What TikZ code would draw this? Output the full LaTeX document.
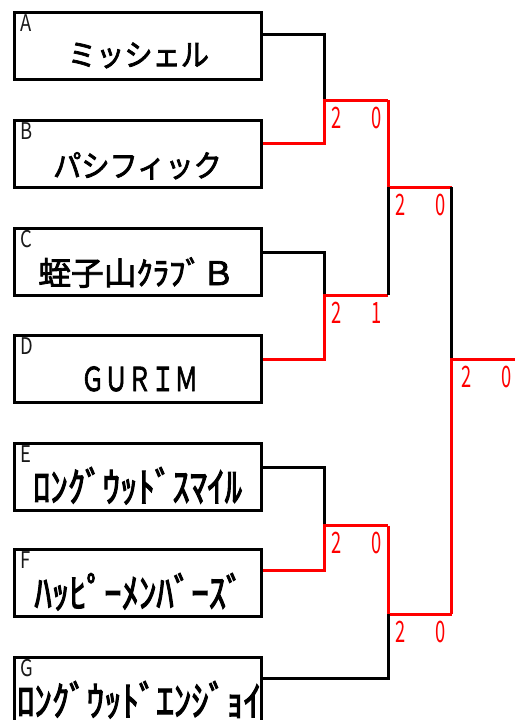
\documentclass[tikz,border=0pt]{standalone}
\usepackage{fontspec}
\setmainfont{Noto Sans CJK JP}
\newfontfamily\namefont[FakeBold=2.5]{Noto Sans CJK JP}
\newfontfamily\hwfont[FakeStretch=0.85, FakeBold=2.5]{Noto Sans CJK JP}
\newfontfamily\digitfont[FakeStretch=0.62]{Noto Sans CJK JP}
\newfontfamily\labelfont[FakeStretch=0.8]{Noto Sans CJK JP}
\usetikzlibrary{calc}
\definecolor{winred}{RGB}{255,0,0}
\tikzset{
  team/.style={draw=black, line width=3pt, rectangle, minimum width=247pt, minimum height=67pt, inner sep=0pt, anchor=north west},
  tag/.style={inner sep=0pt, anchor=base west, font=\labelfont\fontsize{23}{23}\selectfont, text=black!90},
  fullname/.style={inner sep=0pt, anchor=base, font=\namefont\fontsize{30}{30}\selectfont},
  halfname/.style={inner sep=0pt, anchor=base, font=\hwfont\fontsize{41}{41}\selectfont},
  lose/.style={draw=black, line width=3pt},
  win/.style={draw=winred, line width=3pt},
  score/.style={inner sep=0pt, anchor=base, text=winred, font=\digitfont\fontsize{29.5}{29.5}\selectfont},
}
\begin{document}
\begin{tikzpicture}[x=1pt, y=-1pt]
\useasboundingbox (0,0) rectangle (515,720);

% team boxes
\node[team] (A) at (12.5,11) {};
\node[team] (B) at (12.5,119) {};
\node[team] (C) at (12.5,227) {};
\node[team] (D) at (12.5,334) {};
\node[team] (E) at (12.5,442) {};
\node[team] (F) at (12.5,548) {};
\node[team] (G) at (12.5,656) {};

% letters
\node[tag] (tA) at ($(A.north west)+(8,20)$) {A};
\node[tag] (tB) at ($(B.north west)+(8,20)$) {B};
\node[tag] (tC) at ($(C.north west)+(8,20)$) {C};
\node[tag] (tD) at ($(D.north west)+(8,20)$) {D};
\node[tag] (tE) at ($(E.north west)+(8,20)$) {E};
\node[tag] (tF) at ($(F.north west)+(8,20)$) {F};
\node[tag] (tG) at ($(G.north west)+(8,20)$) {G};

% names
\node[fullname] (nA) at ($(A.north)+(1,55)$) {\scalebox{0.94}[1.02]{ミッシェル}};
\node[fullname] (nB) at ($(B.north)+(0,58)$) {\scalebox{0.94}[1.02]{パシフィック}};
\node[fullname] (nC) at ($(C.north)+(-1,58)$) {\scalebox{1.09}[1.08]{蛭子山ｸﾗﾌﾞＢ}};
\node[fullname] (nD) at ($(D.north)+(2,57)$) {\scalebox{0.78}[1.1]{ＧＵＲＩＭ}};
\node[halfname] (nE) at ($(E.north)+(0,60)$) {ﾛﾝｸﾞｳｯﾄﾞｽﾏｲﾙ};
\node[halfname] (nF) at ($(F.north)+(1.5,60)$) {ﾊｯﾋﾟｰﾒﾝﾊﾞｰｽﾞ};
\node[halfname] (nG) at ($(G.north)+(1.5,60)$) {ﾛﾝｸﾞｳｯﾄﾞｴﾝｼﾞｮｲ};

% exits
\coordinate (xA) at (A.north east |- 0,34);
\coordinate (xB) at (B.north east |- 0,143);
\coordinate (xC) at (C.north east |- 0,252);
\coordinate (xD) at (D.north east |- 0,359);
\coordinate (xE) at (E.north east |- 0,467);
\coordinate (xF) at (F.north east |- 0,570);
\coordinate (xG) at (G.north east |- 0,678);

% junctions
\coordinate (m1) at (324,100);
\coordinate (m2) at (324,295);
\coordinate (m3) at (324,525.7);
\coordinate (s1) at (388,187);
\coordinate (s2) at (388,614);
\coordinate (f1) at (451.5,359);
\coordinate (out) at (515,359);

% round 1
\draw[lose] (xA) -| (m1);
\draw[win] (xB) -| (m1) -- (m1 -| s1);
\draw[lose] (xC) -| (m2);
\draw[win] (xD) -| (m2) -- (m2 -| s1);
\draw[lose] (xE) -| (m3);
\draw[win] (xF) -| (m3) -- (m3 -| s2);
% round 2
\draw[win] (m1 -| s1) -- (s1) -- (s1 -| f1);
\draw[lose] (m2 -| s1) -- (s1);
\draw[win] (m3 -| s2) -- (s2) -- (s2 -| f1);
\draw[lose] (xG) -| (s2);
% final
\draw[lose] (s1 -| f1) -- (f1);
\draw[win] (s2 -| f1) -- (f1) -- (out);

% scores
\node[score] (a1) at ($(m1)+(12.7,28)$) {2};
\node[score] (a2) at ($(m1)+(52.7,28)$) {0};
\node[score] (b1) at ($(m2)+(12.7,28)$) {2};
\node[score] (b2) at ($(m2)+(52.7,28)$) {1};
\node[score] (c1) at ($(m3)+(12.7,28)$) {2};
\node[score] (c2) at ($(m3)+(52.7,28)$) {0};
\node[score] (d1) at ($(s1)+(12.7,28)$) {2};
\node[score] (d2) at ($(s1)+(52.7,28)$) {0};
\node[score] (e1) at ($(s2)+(12.7,28)$) {2};
\node[score] (e2) at ($(s2)+(52.7,28)$) {0};
\node[score] (g1) at ($(f1)+(15,28)$) {2};
\node[score] (g2) at ($(f1)+(55,28)$) {0};
\end{tikzpicture}
\end{document}
